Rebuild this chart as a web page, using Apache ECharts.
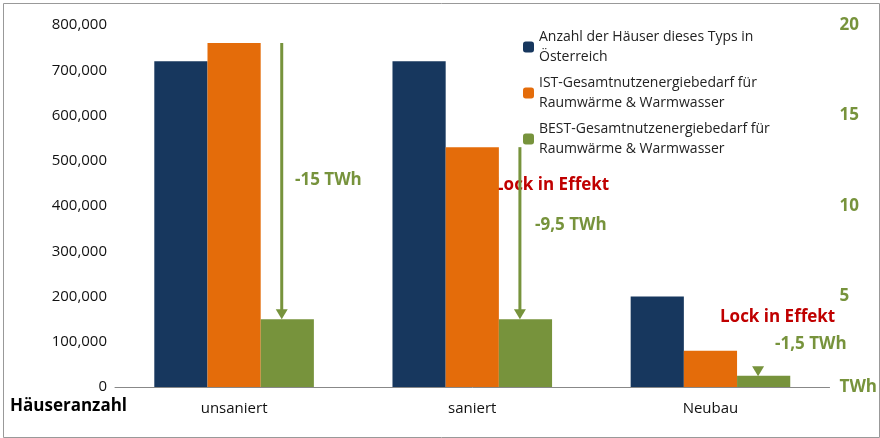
<!DOCTYPE html><html><head><meta charset="utf-8">
<script src="https://cdn.jsdelivr.net/npm/echarts@6/dist/echarts.min.js"></script>
<style>html,body{margin:0;padding:0;background:#fff}#c{width:880px;height:438px}</style></head>
<body><div id="c"></div><script>
const categories=['unsaniert','saniert','Neubau'];
const houses=[720000,720000,200000];
const ist=[19,13.25,2];
const best=[3.75,3.75,0.625];
const arrows=[[0,19,3.75],[1,13.25,3.75],[2,1.1,0.6]];
const leftTicks=[0,100000,200000,300000,400000,500000,600000,700000,800000];
const names=['Anzahl der Häuser dieses Typs in\nÖsterreich','IST-Gesamtnutzenergiebedarf für\nRaumwärme & Warmwasser','BEST-Gesamtnutzenergiebedarf für\nRaumwärme & Warmwasser'];
const GREEN='#77933c',RED='#c00000';
const F='Open Sans';
const ch=echarts.init(document.getElementById('c'));
ch.setOption({
 textStyle:{fontFamily:F},
 animation:false,
 grid:{left:115,right:45,top:25,bottom:51},
 legend:{orient:'vertical',left:518,top:22,itemWidth:11,itemHeight:11,itemGap:6,
  textStyle:{fontSize:14,color:'#222',lineHeight:20,fontFamily:F},data:names},
 xAxis:{type:'category',data:categories,axisTick:{show:false},axisLine:{lineStyle:{color:'#888'}},
  axisLabel:{fontSize:15,color:'#111',margin:14}},
 yAxis:[{type:'value',min:0,max:800000,interval:100000,splitLine:{show:false},
   axisLine:{show:false},axisLabel:{fontSize:15,color:'#111'}},
  {type:'value',min:0,max:20,interval:5,splitLine:{show:false},axisLine:{show:false},
   axisLabel:{fontSize:17,fontWeight:'bold',color:GREEN,margin:10,formatter:v=>v===0?'TWh':v}}],
 series:[
  {name:names[0],type:'bar',data:houses,itemStyle:{color:'#17375e'},barGap:'0%',barCategoryGap:'33%'},
  {name:names[1],type:'bar',yAxisIndex:1,data:ist,itemStyle:{color:'#e46c0a'}},
  {name:names[2],type:'bar',yAxisIndex:1,data:best,itemStyle:{color:GREEN}},
  {type:'custom',yAxisIndex:1,data:arrows,z:10,renderItem:(p,api)=>{
    const i=api.value(0),off=api.size([1,0])[0]*0.2;
    const a=api.coord([i,api.value(1)]),b=api.coord([i,api.value(2)]);
    const x=a[0]+off;
    return {type:'group',children:[
     {type:'line',shape:{x1:x,y1:a[1],x2:x,y2:b[1]-8},style:{stroke:GREEN,lineWidth:3}},
     {type:'polygon',shape:{points:[[x-6,b[1]-10],[x+6,b[1]-10],[x,b[1]]]},style:{fill:GREEN}}]};
  }}
 ],
 graphic:[
  {type:'rect',left:1,top:1,shape:{width:876,height:434},style:{fill:'none',stroke:'#999',lineWidth:1}},
  {type:'text',left:10,top:398,style:{text:'Häuseranzahl',font:'bold 17px '+F,fill:'#000'}},
  {type:'text',left:295,top:172,style:{text:'-15 TWh',font:'bold 17px '+F,fill:GREEN}},
  {type:'text',left:494,top:177,style:{text:'Lock in Effekt',font:'bold 17px '+F,fill:RED}},
  {type:'text',left:535,top:217,style:{text:'-9,5 TWh',font:'bold 17px '+F,fill:GREEN}},
  {type:'text',left:720,top:309,style:{text:'Lock in Effekt',font:'bold 17px '+F,fill:RED}},
  {type:'text',left:775,top:336,style:{text:'-1,5 TWh',font:'bold 17px '+F,fill:GREEN}}
 ]
});
</script></body></html>
